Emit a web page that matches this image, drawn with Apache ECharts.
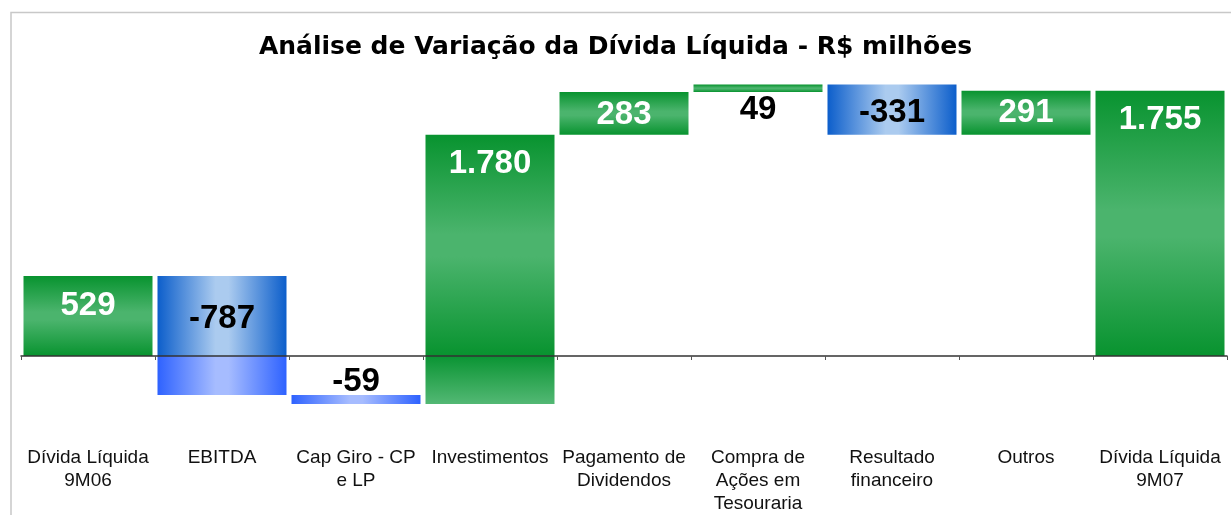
<!DOCTYPE html>
<html>
<head>
<meta charset="utf-8">
<title>Análise de Variação da Dívida Líquida</title>
<script src="https://cdn.jsdelivr.net/npm/echarts@6/dist/echarts.min.js"></script>
<style>
html, body { margin: 0; padding: 0; background: #fff; }
#chart { width: 1231px; height: 515px; }
</style>
</head>
<body>
<div id="chart"></div>
<script>
// categorias do eixo x
var categories = ['Dívida Líquida\n9M06', 'EBITDA', 'Cap Giro - CP\ne LP', 'Investimentos',
    'Pagamento de\nDividendos', 'Compra de\nAções em\nTesouraria', 'Resultado\nfinanceiro',
    'Outros', 'Dívida Líquida\n9M07'];
// variações em R$ milhões
var values = [529, -787, -59, 1780, 283, 49, -331, 291, 1755];
// barras de saldo (começam do zero)
var isTotal = [true, false, false, false, false, false, false, false, true];

var font = "'Liberation Sans', Arial, sans-serif";

function fmt(v) {
    return String(v).replace(/\B(?=(\d{3})+(?!\d))/g, '.');
}
function grad(horizontal, stops) {
    return {
        type: 'linear', x: 0, y: 0, x2: horizontal ? 1 : 0, y2: horizontal ? 0 : 1,
        colorStops: stops.map(function (s) { return { offset: s[0], color: s[1] }; })
    };
}
function noZero(v) { return v === 0 ? '-' : v; }

var greenUp = grad(false, [[0, '#08932f'], [0.45, '#4bb46d'], [0.55, '#4bb46d'], [1, '#08932f']]);
var greenDown = grad(false, [[0, '#0a9433'], [1, '#53b874']]);
var blueUp = grad(true, [[0, '#0c5ecb'], [0.45, '#abcbef'], [0.55, '#abcbef'], [1, '#0c5ecb']]);
var blueDown = grad(true, [[0, '#2e62ff'], [0.45, '#a6bcff'], [0.55, '#a6bcff'], [1, '#2e62ff']]);

// posição dos rótulos de valor
var labelPos = ['insideTop', 'inside', 'top', 'insideTop', 'inside', 'bottom', 'inside', 'inside', 'insideTop'];
var labelShift = [0, 3, 4, 0, 2, 0, 3, 0, 0];

// faixa de cada barra flutuante
var posBase = [], posBar = [], negBase = [], negBar = [];
var run = 0;
for (var i = 0; i < values.length; i++) {
    var a, b;
    if (isTotal[i]) { a = 0; b = values[i]; }
    else { a = run; b = run + values[i]; }
    run = b;
    var low = Math.min(a, b), high = Math.max(a, b);
    var up = values[i] >= 0;

    var label = {
        show: true,
        position: labelPos[i],
        distance: labelPos[i] === 'insideTop' ? 13 : 1,
        offset: [0, labelShift[i]],
        formatter: fmt(values[i]),
        fontSize: 33,
        fontWeight: 'bold',
        fontFamily: font,
        color: (up && labelPos[i] !== 'bottom') ? '#fff' : '#000'
    };

    var pv = Math.max(0, high) - Math.max(0, low);
    var nv = Math.min(0, low) - Math.min(0, high);
    posBase.push(noZero(Math.max(0, low)));
    negBase.push(noZero(Math.min(0, high)));

    posBar.push(pv === 0 ? '-' : {
        value: pv,
        itemStyle: { color: up ? greenUp : blueUp },
        label: i === 2 ? { show: false } : label
    });
    negBar.push(nv === 0 ? '-' : {
        value: nv,
        itemStyle: { color: up ? greenDown : blueDown },
        label: i === 2 ? label : { show: false }
    });
}

var chart = echarts.init(document.getElementById('chart'));

var option = {
    backgroundColor: '#fff',
    animation: false,
    title: {
        text: 'Análise de Variação da Dívida Líquida - R$ milhões',
        left: 'center',
        top: 30,
        textStyle: { fontSize: 25, fontWeight: 'bold', color: '#000', fontFamily: "'DejaVu Sans', sans-serif" }
    },
    graphic: [{
        type: 'rect',
        shape: { x: 11, y: 12.5, width: 1240, height: 520 },
        style: { fill: 'none', stroke: '#c8c8c8', lineWidth: 1.5 },
        silent: true
    }],
    grid: { left: 21, right: 4, top: 53.6, bottom: 83.4, outerBoundsMode: 'none' },
    xAxis: {
        type: 'category',
        data: categories,
        z: 5,
        axisLine: { show: true, onZero: true, lineStyle: { color: '#333', width: 1.5 } },
        axisTick: { show: true, length: 4, lineStyle: { color: '#555' } },
        axisLabel: {
            interval: 0, margin: 15, fontSize: 19, lineHeight: 23,
            color: '#111', fontFamily: font
        },
        splitLine: { show: false }
    },
    yAxis: {
        type: 'value',
        min: -500,
        max: 2000,
        show: false,
        splitLine: { show: false }
    },
    series: [
        { name: 'base+', type: 'bar', stack: 'w', barWidth: 129, data: posBase,
          itemStyle: { color: 'transparent' }, silent: true },
        { name: 'valor+', type: 'bar', stack: 'w', barWidth: 129, data: posBar },
        { name: 'base-', type: 'bar', stack: 'w', barWidth: 129, data: negBase,
          itemStyle: { color: 'transparent' }, silent: true },
        { name: 'valor-', type: 'bar', stack: 'w', barWidth: 129, data: negBar }
    ]
};

chart.setOption(option);
</script>
</body>
</html>
